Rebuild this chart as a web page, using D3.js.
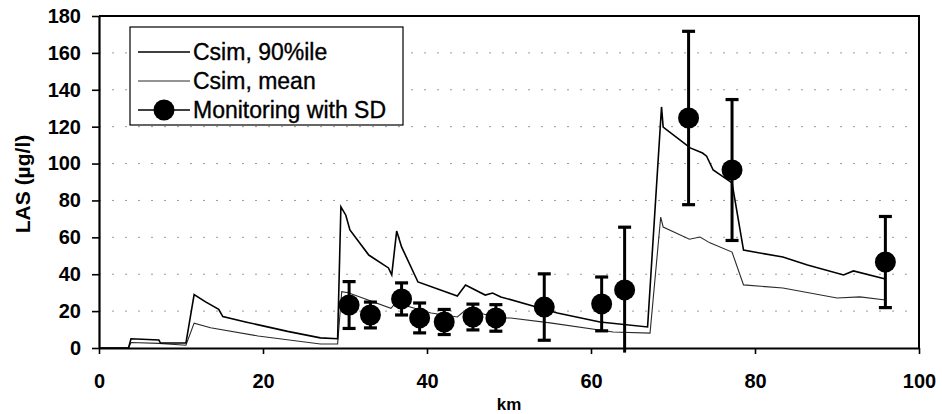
<!DOCTYPE html>
<html>
<head>
<meta charset="utf-8">
<script src="https://cdn.jsdelivr.net/npm/d3@7"></script>
<style>
  html, body { margin: 0; padding: 0; background: #fff; }
  svg { display: block; font-family: "Liberation Sans", Arial, sans-serif; }
</style>
</head>
<body>
<svg id="chart" width="942" height="414"></svg>
<script>
// Simulated LAS concentration along the river (km, µg/l)
const p90Km  = [0, 3.6, 3.9, 7.3, 7.5, 10.6, 11.6, 13.0, 14.6, 15.1, 18.0, 20.0, 23.0, 27.0, 29.1, 29.5, 30.1, 30.6, 32.9, 35.3, 35.7, 36.3, 36.9, 38.9, 43.7, 44.7, 47.1, 48.0, 49.0, 55.9, 61.1, 66.9, 68.6, 68.8, 72.1, 73.6, 74.1, 74.9, 77.2, 78.6, 83.4, 86.4, 90.8, 92.0, 95.9];
const p90Val = [0, 0, 5, 4.3, 2.7, 2.7, 29, 25, 21, 17, 14, 12, 9, 5.5, 5, 76.5, 72, 64, 50.4, 43.4, 39.6, 63.4, 54.8, 35.8, 28.2, 34.2, 28.7, 29.8, 27.7, 19, 14.1, 11.4, 130.7, 119.8, 108.5, 105.7, 104, 96.5, 89.5, 53.1, 49.3, 45, 39.6, 41.8, 37.4];

const meanKm  = [0, 3.6, 3.9, 7.3, 10.6, 11.6, 13.6, 19.4, 27.0, 29.1, 29.6, 30.4, 35.6, 36.3, 37.0, 40.5, 43.7, 44.7, 47.4, 49.0, 50.2, 55.0, 62.7, 67.2, 68.5, 68.8, 72.0, 73.3, 74.5, 77.2, 78.6, 83.4, 90.0, 92.8, 95.9];
const meanVal = [0, 0, 3, 2.5, 1.5, 13.5, 11, 6.5, 2.2, 2.2, 30.5, 30, 21.5, 25, 23.5, 19, 16.8, 20.6, 17.9, 16.3, 16.3, 13.6, 8.7, 8.1, 71, 65.6, 59, 60.2, 57, 52, 34.2, 32.5, 27.1, 27.7, 26];

// Monitoring stations: mean and standard deviation
const monKm   = [30.5, 33.1, 36.9, 39.1, 42.1, 45.6, 48.4, 54.3, 61.3, 64.1, 71.9, 77.2, 95.9];
const monMean = [23.3, 17.9, 26.6, 16.3, 14.1, 16.8, 16.3, 22.2, 23.9, 31.5, 124.7, 96.5, 46.6];
const monSd   = [12.7, 7.0, 8.7, 8.1, 6.8, 7.0, 7.2, 18.0, 14.6, 34.0, 47.0, 38.2, 24.7];

const xTicks = [0, 20, 40, 60, 80, 100];
const yTicks = [0, 20, 40, 60, 80, 100, 120, 140, 160, 180];
const legendLabels = ["Csim, 90%ile", "Csim, mean", "Monitoring with SD"];

const svg = d3.select("#chart");
const W = 942, H = 414;
const m = { left: 99, right: 23, top: 16, bottom: 66 };

const x = d3.scaleLinear().domain([0, 100]).range([m.left, W - m.right]);
const y = d3.scaleLinear().domain([0, 180]).range([H - m.bottom, m.top]);

// sparse dotted horizontal gridlines
svg.append("g")
  .selectAll("line")
  .data(yTicks.filter(d => d > 0 && d < 180))
  .join("line")
  .attr("x1", x(0)).attr("x2", x(100))
  .attr("y1", d => y(d)).attr("y2", d => y(d))
  .attr("stroke", "#9a9a9a")
  .attr("stroke-width", 1)
  .attr("stroke-dasharray", "2 11");

// frame: top and right edges
svg.append("path")
  .attr("d", `M${x(0)},${y(180)}H${x(100)}V${y(0)}`)
  .attr("fill", "none")
  .attr("stroke", "#000")
  .attr("stroke-width", 2);

const line = d3.line().x(d => x(d[0])).y(d => y(d[1]));

const p90 = p90Km.map((k, i) => [k, p90Val[i]]);
const mean = meanKm.map((k, i) => [k, meanVal[i]]);

svg.append("path")
  .datum(mean)
  .attr("d", line)
  .attr("fill", "none")
  .attr("stroke", "#2a2a2a")
  .attr("stroke-width", 1.1);

svg.append("path")
  .datum(p90)
  .attr("d", line)
  .attr("fill", "none")
  .attr("stroke", "#000")
  .attr("stroke-width", 1.6);

// monitoring error bars and markers
const mon = monKm.map((k, i) => ({ k, v: monMean[i], sd: monSd[i] }));
const eb = svg.append("g").selectAll("g").data(mon).join("g");
eb.append("line")
  .attr("x1", d => x(d.k)).attr("x2", d => x(d.k))
  .attr("y1", d => y(d.v - d.sd)).attr("y2", d => y(d.v + d.sd))
  .attr("stroke", "#000").attr("stroke-width", 3);
eb.append("line")
  .attr("x1", d => x(d.k) - 6.5).attr("x2", d => x(d.k) + 6.5)
  .attr("y1", d => y(d.v + d.sd)).attr("y2", d => y(d.v + d.sd))
  .attr("stroke", "#000").attr("stroke-width", 3.2);
eb.filter(d => d.v - d.sd > 0).append("line")
  .attr("x1", d => x(d.k) - 6.5).attr("x2", d => x(d.k) + 6.5)
  .attr("y1", d => y(d.v - d.sd)).attr("y2", d => y(d.v - d.sd))
  .attr("stroke", "#000").attr("stroke-width", 3.2);
eb.append("circle")
  .attr("cx", d => x(d.k)).attr("cy", d => y(d.v))
  .attr("r", 10.5)
  .attr("fill", "#000");

// axes
const yAxis = svg.append("g")
  .attr("transform", `translate(${x(0)},0)`)
  .call(d3.axisLeft(y).tickValues(yTicks).tickSize(7).tickPadding(11).tickSizeOuter(0));
const xAxis = svg.append("g")
  .attr("transform", `translate(0,${y(0)})`)
  .call(d3.axisBottom(x).tickValues(xTicks).tickSize(6).tickPadding(20).tickSizeOuter(0));

[xAxis, yAxis].forEach(a => {
  a.select(".domain").attr("stroke", "#000").attr("stroke-width", 2.2);
  a.selectAll(".tick line").attr("stroke", "#000").attr("stroke-width", 1.6);
  a.selectAll(".tick text")
    .attr("fill", "#000")
    .attr("font-size", 20)
    .attr("font-weight", "bold")
    .attr("font-family", "'Liberation Sans', Arial, sans-serif");
});

// axis titles
svg.append("text")
  .attr("x", x(50)).attr("y", 404)
  .attr("text-anchor", "middle")
  .attr("dominant-baseline", "central")
  .attr("font-size", 17).attr("font-weight", "bold")
  .text("km");

svg.append("text")
  .attr("transform", `translate(22,${(y(0) + y(180)) / 2 + 2}) rotate(-90)`)
  .attr("text-anchor", "middle")
  .attr("dominant-baseline", "central")
  .attr("font-size", 21).attr("font-weight", "bold")
  .text("LAS (µg/l)");

// legend
const lg = svg.append("g").attr("transform", "translate(130,27)");
lg.append("rect")
  .attr("width", 273).attr("height", 98)
  .attr("fill", "#fff").attr("stroke", "#000").attr("stroke-width", 1.2);

const rows = lg.selectAll("g.row").data(legendLabels).join("g")
  .attr("class", "row")
  .attr("transform", (d, i) => `translate(0,${25 + i * 29})`);
rows.append("line")
  .attr("x1", 8).attr("x2", 60)
  .attr("stroke", (d, i) => i === 1 ? "#2a2a2a" : "#000")
  .attr("stroke-width", (d, i) => i === 1 ? 1.1 : 1.6);
rows.filter((d, i) => i === 2).append("circle")
  .attr("cx", 34).attr("r", 10.5).attr("fill", "#000");
rows.append("text")
  .attr("x", 63)
  .attr("dominant-baseline", "central")
  .attr("font-size", 23)
  .attr("stroke", "#000")
  .attr("stroke-width", 0.35)
  .text(d => d);
</script>
</body>
</html>
